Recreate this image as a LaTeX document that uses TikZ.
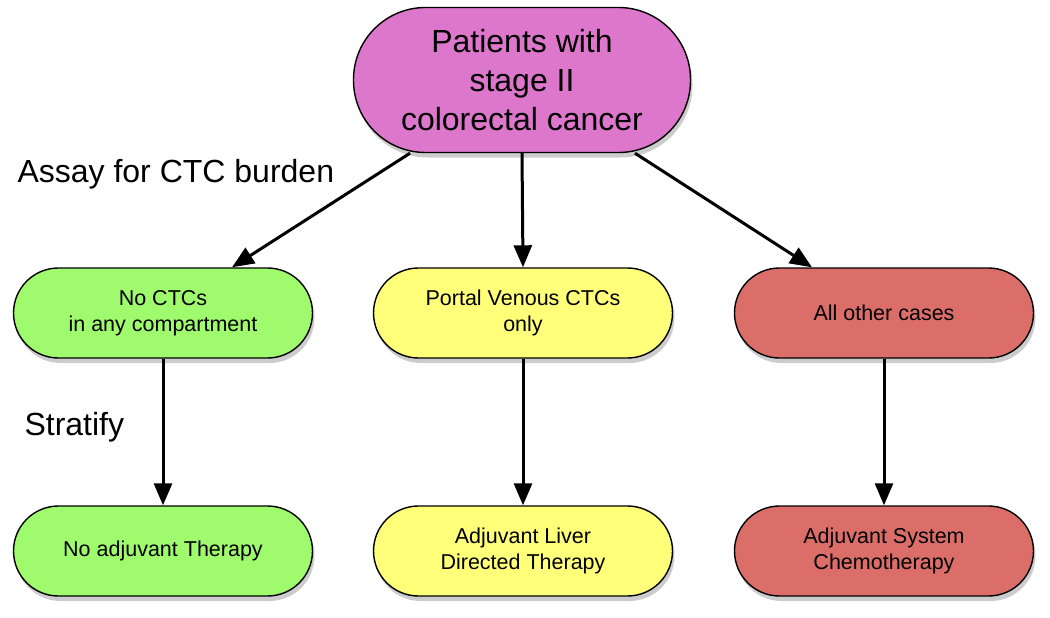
\documentclass[tikz,border=0pt]{standalone}
\usepackage{fontspec}
\setmainfont{Liberation Sans}
\usetikzlibrary{positioning, arrows.meta, shadows}
\definecolor{patientpink}{RGB}{221,119,204}
\definecolor{nonegreen}{RGB}{160,250,110}
\definecolor{portalyellow}{RGB}{255,255,122}
\definecolor{otherred}{RGB}{220,110,106}
\tikzset{
x=1pt, y=1pt, % one unit is one pixel of the layout
flow/.style={-{Triangle[length=22pt,width=18pt]}, line width=3pt}, % the bold connectors
pill/.style={draw, line width=1.4pt, minimum width=299pt, minimum height=90pt, rounded corners=45pt, align=center, font=\fontsize{21.5}{25.5}\selectfont, drop shadow={shadow xshift=2pt, shadow yshift=-5pt, opacity=0.4}}, % every rounded box
bigtext/.style={font=\fontsize{32}{39}\selectfont}, % the large captions
}
\begin{document}
\begin{tikzpicture}
                \useasboundingbox (0,0) rectangle (1050,-618);
                \node[pill, fill=patientpink, bigtext, minimum width=337pt, minimum height=145pt, rounded corners=72pt] (patients) at (522,-80) {Patients with\\stage II\\colorectal cancer};
                \node[pill, fill=nonegreen] (nocells) at (163,-313) {No CTCs\\in any compartment};
                \node[pill, fill=portalyellow] (portal) at (523,-313) {Portal Venous CTCs\\only};
                \node[pill, fill=otherred] (others) at (884,-313) {All other cases};
                \node[pill, fill=nonegreen] (notherapy) at (163,-551) {No adjuvant Therapy};
                \node[pill, fill=portalyellow] (liver) at (523,-551) {Adjuvant Liver\\Directed Therapy};
                \node[pill, fill=otherred] (chemo) at (884,-551) {Adjuvant System\\Chemotherapy};
                \node[bigtext, anchor=west] (assay) at (14,-174) {Assay for CTC burden};
                \node[bigtext, anchor=west] (stratify) at (21,-427) {Stratify};
                \draw[flow] ([xshift=-112pt]patients.south) -- ([xshift=69pt]nocells.north);
                \draw[flow] (patients.south) -- (portal.north);
                \draw[flow] ([xshift=113pt]patients.south) -- ([xshift=-72pt]others.north);
                \draw[flow] (nocells) -- (notherapy);
                \draw[flow] (portal) -- (liver);
                \draw[flow] (others) -- (chemo);
\end{tikzpicture}
\end{document}
